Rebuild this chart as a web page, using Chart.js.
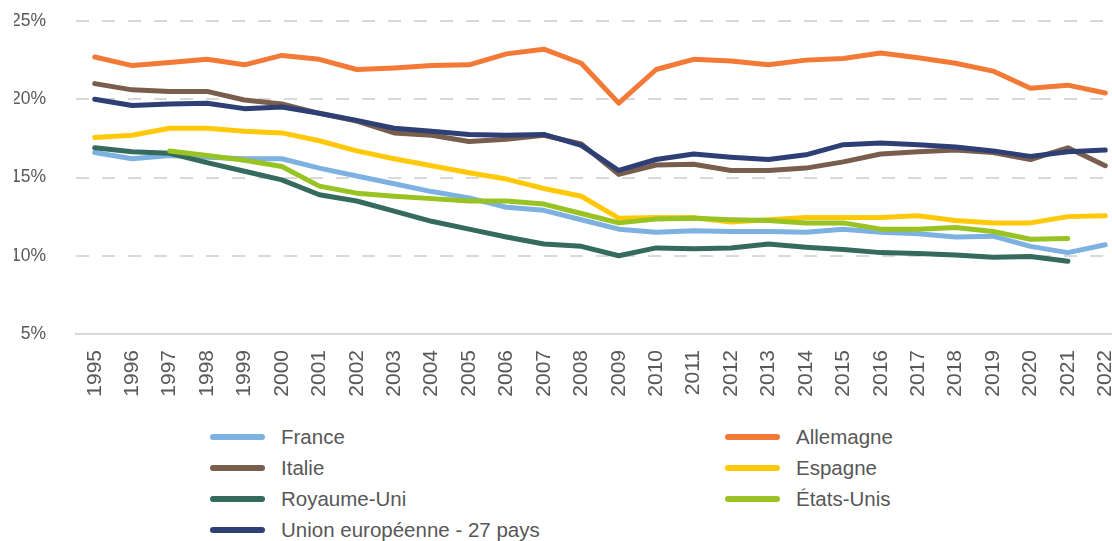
<!DOCTYPE html>
<html>
<head>
<meta charset="utf-8">
<script src="https://cdn.jsdelivr.net/npm/chart.js@4"></script>
<style>
    html, body { margin: 0; padding: 0; background: #fff; overflow: hidden; }
    body { width: 1112px; height: 541px; position: relative; font-family: "Liberation Sans", Arial, sans-serif; }
    #chart { position: absolute; left: 0; top: 0; }
    .legend {
        position: absolute; left: 210px; top: 421px;
        display: grid; grid-template-columns: 515px 300px; row-gap: 0;
    }
    .legend-item { display: flex; align-items: center; height: 31px; color: #575757; font-size: 20.5px; }
    .legend-item span.swatch { display: inline-block; width: 55px; height: 6px; border-radius: 3px; margin-right: 16px; }
</style>
</head>
<body>
<canvas id="chart" width="1124" height="410"></canvas>
<div class="legend" id="legend"></div>
<script>
// years on the x axis
const years = ['1995','1996','1997','1998','1999','2000','2001','2002','2003','2004','2005','2006','2007','2008',
    '2009','2010','2011','2012','2013','2014','2015','2016','2017','2018','2019','2020','2021','2022']

const yTicks = [5, 10, 15, 20, 25]

// series (%)
const france = [16.6, 16.2, 16.4, 16.3, 16.2, 16.2, 15.6, 15.1, 14.6, 14.1, 13.7, 13.1, 12.9, 12.3,
    11.7, 11.5, 11.6, 11.55, 11.55, 11.5, 11.7, 11.5, 11.4, 11.2, 11.25, 10.6, 10.2, 10.7]
const allemagne = [22.7, 22.15, 22.35, 22.55, 22.2, 22.8, 22.55, 21.9, 22.0, 22.15, 22.2, 22.9, 23.2, 22.3,
    19.75, 21.9, 22.55, 22.45, 22.2, 22.5, 22.6, 22.95, 22.65, 22.3, 21.8, 20.7, 20.9, 20.4]
const italie = [21.0, 20.6, 20.5, 20.5, 19.95, 19.7, 19.1, 18.6, 17.85, 17.7, 17.3, 17.45, 17.7, 17.15,
    15.2, 15.8, 15.85, 15.45, 15.45, 15.6, 16.0, 16.5, 16.65, 16.75, 16.6, 16.15, 16.9, 15.75]
const espagne = [17.55, 17.7, 18.15, 18.15, 17.95, 17.85, 17.35, 16.7, 16.2, 15.75, 15.3, 14.9, 14.3, 13.8,
    12.4, 12.45, 12.45, 12.15, 12.3, 12.45, 12.45, 12.45, 12.55, 12.25, 12.1, 12.1, 12.5, 12.55]
const royaumeUni = [16.9, 16.65, 16.55, 15.95, 15.4, 14.85, 13.9, 13.5, 12.85, 12.2, 11.7, 11.2, 10.75, 10.6,
    10.0, 10.5, 10.45, 10.5, 10.75, 10.55, 10.4, 10.2, 10.15, 10.05, 9.9, 9.95, 9.65, null]
const etatsUnis = [null, null, 16.7, 16.4, 16.1, 15.7, 14.45, 14.0, 13.8, 13.65, 13.5, 13.5, 13.3, 12.7,
    12.1, 12.35, 12.4, 12.3, 12.25, 12.1, 12.1, 11.7, 11.7, 11.8, 11.55, 11.05, 11.1, null]
const ue27 = [20.0, 19.6, 19.7, 19.75, 19.4, 19.5, 19.1, 18.65, 18.15, 17.95, 17.75, 17.7, 17.75, 17.05,
    15.45, 16.15, 16.5, 16.3, 16.15, 16.45, 17.1, 17.2, 17.1, 16.95, 16.7, 16.35, 16.65, 16.75]

const series = [
    { label: 'France', data: france, color: '#7DB1E1', order: 5 },
    { label: 'Allemagne', data: allemagne, color: '#F27A36', order: 1 },
    { label: 'Italie', data: italie, color: '#7A5E4D', order: 4 },
    { label: 'Espagne', data: espagne, color: '#FFC90A', order: 6 },
    { label: 'Royaume-Uni', data: royaumeUni, color: '#356A5E', order: 3 },
    { label: 'États-Unis', data: etatsUnis, color: '#99C223', order: 2 },
    { label: 'Union européenne - 27 pays', data: ue27, color: '#2D3F75', order: 0 },
]

const textColor = '#595959'

const ctx = document.getElementById('chart').getContext('2d')
new Chart(ctx, {
    type: 'line',
    data: {
        labels: years,
        datasets: series.map((s) => ({
            label: s.label,
            data: s.data,
            borderColor: s.color,
            backgroundColor: s.color,
            borderWidth: 5,
            pointRadius: 0,
            tension: 0,
            fill: false,
            order: s.order,
            borderCapStyle: 'round',
            borderJoinStyle: 'round',
        })),
    },
    options: {
        responsive: false,
        animation: false,
        layout: { padding: { left: 14, top: 21, right: 0, bottom: 0 } },
        plugins: {
            legend: { display: false },
            tooltip: { enabled: false },
        },
        scales: {
            x: {
                offset: true,
                grid: { display: false, drawTicks: false },
                border: { display: true, color: '#d9d9d9', width: 2 },
                ticks: {
                    color: textColor,
                    font: { family: 'Liberation Sans', size: 21 },
                    minRotation: 90,
                    maxRotation: 90,
                    autoSkip: false,
                    padding: 16,
                },
                // fixed axis height, no extra side padding
                afterFit: (axis) => {
                    axis.height = 76
                    axis.paddingLeft = 0
                    axis.paddingRight = 0
                },
            },
            y: {
                min: 5,
                max: 25,
                afterBuildTicks: (axis) => { axis.ticks = yTicks.map((v) => ({ value: v })) },
                grid: { color: '#d9d9d9', lineWidth: 2, drawTicks: false },
                border: { display: false, dash: [13, 13] },
                ticks: {
                    color: textColor,
                    font: { family: 'Liberation Sans', size: 17.5 },
                    padding: 30,
                    callback: (v) => v + '%',
                },
                afterFit: (axis) => {
                    axis.width = 62
                    axis.paddingTop = 0
                    axis.paddingBottom = 0
                },
            },
        },
    },
})

// legend in two columns
const legend = document.getElementById('legend')
series.forEach((s) => {
    const item = document.createElement('div')
    item.className = 'legend-item'
    item.innerHTML = `<span class="swatch" style="background:${s.color}"></span>${s.label}`
    legend.appendChild(item)
})
</script>
</body>
</html>
